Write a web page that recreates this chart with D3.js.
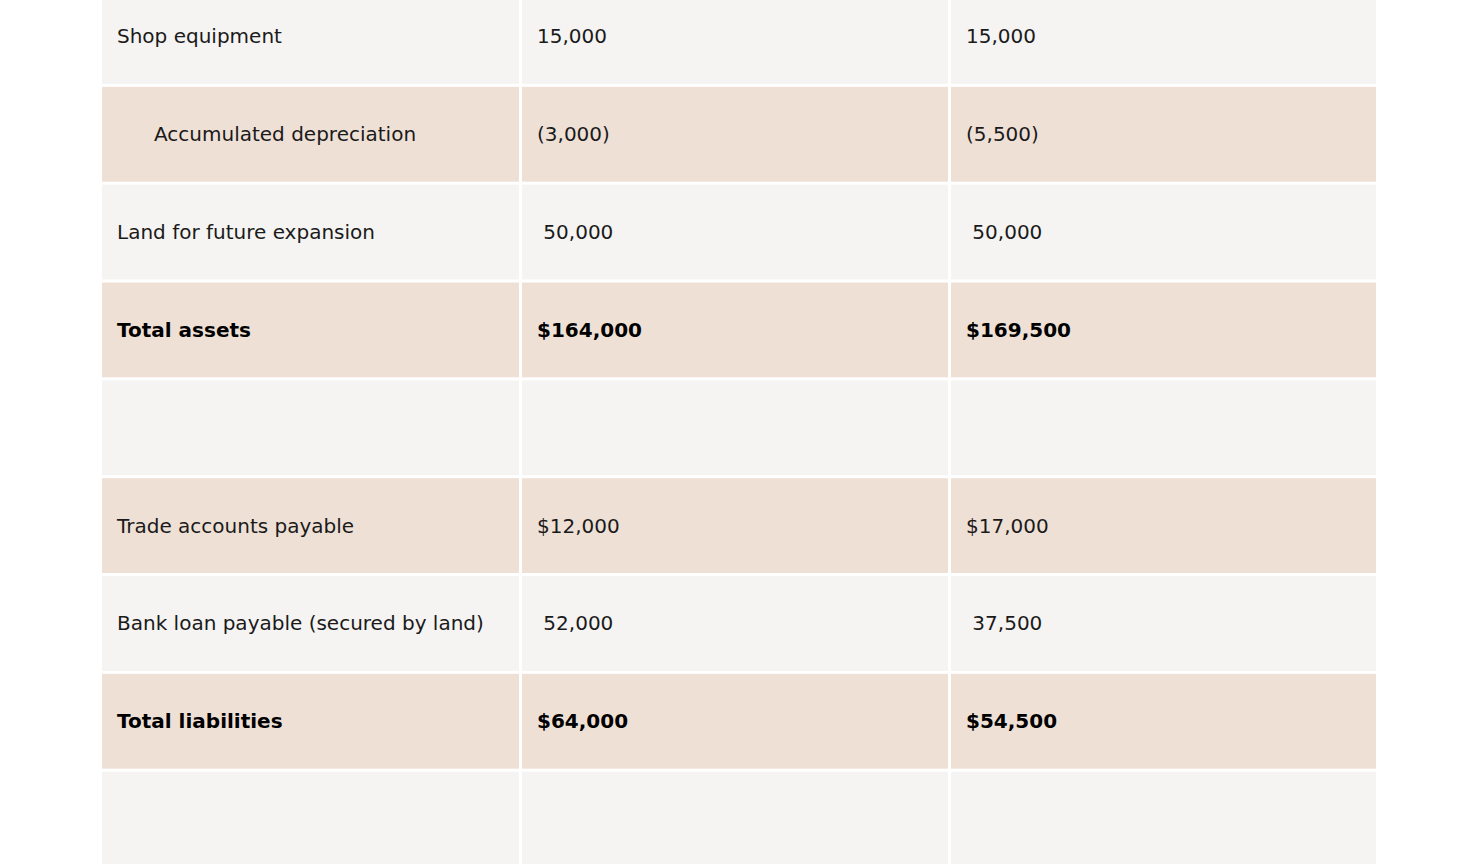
<!DOCTYPE html>
<html><head><meta charset="utf-8">
<script src="https://cdn.jsdelivr.net/npm/d3@7"></script>
<style>body{margin:0;background:#fff;overflow:hidden}</style>
</head><body><div id="chart"></div>
<script>
const width = 1464, height = 864;

const labels = ["Shop equipment", "Accumulated depreciation", "Land for future expansion", "Total assets", "",
    "Trade accounts payable", "Bank loan payable (secured by land)", "Total liabilities", ""];
const col2020 = ["15,000", "(3,000)", " 50,000", "$164,000", "", "$12,000", " 52,000", "$64,000", ""];
const col2021 = ["15,000", "(5,500)", " 50,000", "$169,500", "", "$17,000", " 37,500", "$54,500", ""];
const boldRows = [3, 7];
const indentRows = [1];

const svg = d3.select("#chart").append("svg")
    .attr("width", width).attr("height", height);

const rowPitch = 97.5;
const y = d3.scaleBand()
    .domain(d3.range(labels.length))
    .range([-11, -11 + rowPitch * labels.length])
    .paddingInner(3 / rowPitch).paddingOuter(0);

const colEdges = [[102, 519], [522, 948], [951, 1376]];
const columns = [labels, col2020, col2021];

labels.forEach((_, i) => {
    const fill = i % 2 === 0 ? "#f5f4f2" : "#efe0d6";
    columns.forEach((col, c) => {
        const [x0, x1] = colEdges[c];
        svg.append("rect")
            .attr("x", x0).attr("y", y(i))
            .attr("width", x1 - x0).attr("height", y.bandwidth())
            .attr("fill", fill);
        const pad = (c === 0 && indentRows.includes(i)) ? 52 : 15;
        svg.append("text")
            .attr("x", x0 + pad)
            .attr("y", y(i) + y.bandwidth() / 2)
            .attr("dy", "0.35em")
            .attr("xml:space", "preserve")
            .style("white-space", "pre")
            .style("font-family", "'DejaVu Sans', Verdana, sans-serif")
            .style("font-size", "20px")
            .style("font-weight", boldRows.includes(i) ? "bold" : "normal")
            .attr("fill", boldRows.includes(i) ? "#000" : "#1a1a1a")
            .text(col[i]);
    });
});
</script></body></html>
